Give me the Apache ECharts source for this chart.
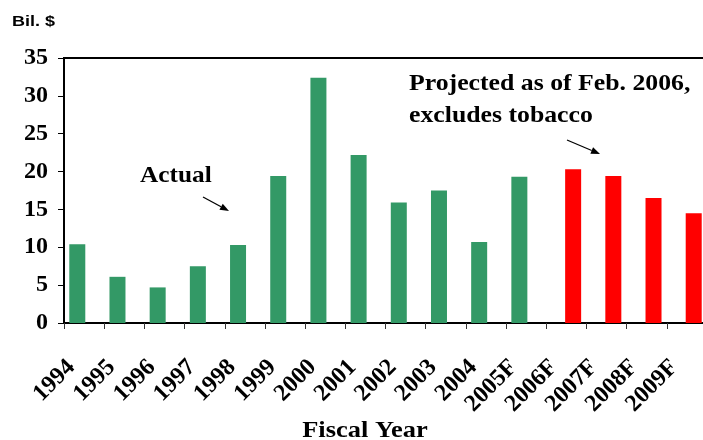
<!DOCTYPE html>
<html>
<head>
<meta charset="utf-8">
<script src="https://cdn.jsdelivr.net/npm/echarts@6/dist/echarts.min.js"></script>
<style>
  html, body { margin: 0; padding: 0; background: #fff; }
  #chart { width: 703px; height: 440px; }
</style>
</head>
<body>
<div id="chart"></div>
<script>
// Fiscal years on the category axis
const years = ['1994', '1995', '1996', '1997', '1998', '1999', '2000', '2001',
               '2002', '2003', '2004', '2005F', '2006F', '2007F', '2008F', '2009F'];
// Actual values (billions of dollars); null where the year is a projection
const actual = [10.4, 6.1, 4.7, 7.5, 10.3, 19.4, 32.4, 22.2,
                15.9, 17.5, 10.7, 19.3, null, null, null, null];
// Projections as of Feb. 2006, excluding tobacco
const projected = [null, null, null, null, null, null, null, null,
                   null, null, null, null, 20.3, 19.4, 16.5, 14.5];
// Value axis ticks
const yTicks = [0, 5, 10, 15, 20, 25, 30, 35];

const serif = '"Liberation Serif", "Times New Roman", serif';

function arrow(x1, y1, x2, y2) {
  const ang = Math.atan2(y2 - y1, x2 - x1);
  const L = 9, W = 3.5;
  const bx = x2 - L * Math.cos(ang), by = y2 - L * Math.sin(ang);
  const px = -Math.sin(ang) * W, py = Math.cos(ang) * W;
  return [
    { type: 'line', shape: { x1: x1, y1: y1, x2: bx, y2: by },
      style: { stroke: '#000', lineWidth: 1.3 } },
    { type: 'polygon', shape: { points: [[x2, y2], [bx + px, by + py], [bx - px, by - py]] },
      style: { fill: '#000' } }
  ];
}

function label(x, y, text, size, sx, extra) {
  return {
    type: 'text', x: x, y: y, scaleX: sx,
    style: Object.assign({ text: text, fontFamily: serif, fontWeight: 'bold',
                           fontSize: size, fill: '#000', verticalAlign: 'middle' }, extra || {})
  };
}

const chart = echarts.init(document.getElementById('chart'));
chart.setOption({
  animation: false,
  grid: { left: 64, width: 643, top: 58, bottom: 117, show: true,
          outerBoundsMode: 'none', containLabel: false,
          borderColor: '#000', borderWidth: 2, backgroundColor: 'transparent' },
  xAxis: {
    type: 'category',
    data: years,
    axisLine: { lineStyle: { color: '#000', width: 2 } },
    axisTick: { show: true, length: 6, alignWithLabel: false, lineStyle: { color: '#333', width: 1 } },
    axisLabel: { rotate: 45, margin: 28, interval: 0, color: '#000', padding: [0, 18, 0, 0],
                 fontFamily: serif, fontWeight: 'bold', fontSize: 24 }
  },
  yAxis: {
    type: 'value',
    min: yTicks[0], max: yTicks[yTicks.length - 1], interval: 5,
    splitLine: { show: false },
    axisLine: { show: true, lineStyle: { color: '#000', width: 2 } },
    axisTick: { show: true, length: 6, lineStyle: { color: '#000', width: 1 } },
    axisLabel: { margin: 16, color: '#000', fontFamily: serif,
                 fontWeight: 'bold', fontSize: 24 }
  },
  series: [
    { name: 'Actual', type: 'bar', data: actual, barWidth: 16, barGap: '-15%',
      itemStyle: { color: '#339966' } },
    { name: 'Projected', type: 'bar', data: projected, barWidth: 16,
      itemStyle: { color: '#ff0000' } }
  ],
  graphic: [
    { type: 'text', x: 12, y: 22, scaleX: 1.2,
      style: { text: 'Bil. $', fontFamily: '"Liberation Sans", Arial, sans-serif',
               fontWeight: 'bold', fontSize: 15, fill: '#000', verticalAlign: 'middle' } },
    label(365, 431, 'Fiscal Year', 23, 1.15, { align: 'center' }),
    label(140, 176, 'Actual', 23, 1.1),
    label(409, 100, 'Projected as of Feb. 2006,\nexcludes tobacco', 23, 1.12, { lineHeight: 32 })
  ].concat(arrow(203, 197, 229, 211), arrow(567, 140, 600, 154))
});
</script>
</body>
</html>
